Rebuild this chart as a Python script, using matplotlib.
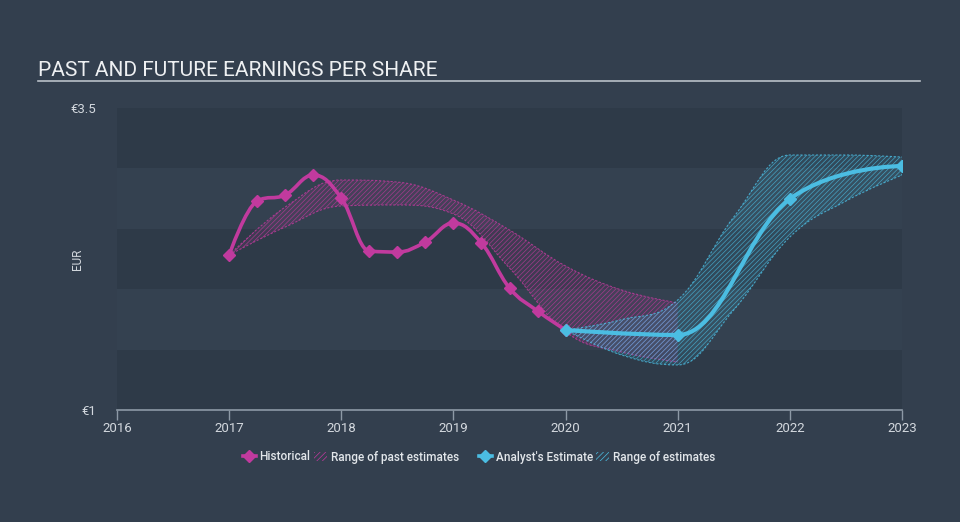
import matplotlib.pyplot as plt
from matplotlib.path import Path
from matplotlib.patches import PathPatch, Patch
from matplotlib.lines import Line2D
import matplotlib as mpl

mpl.style.use('default')
plt.rcParams['font.family'] = ['Roboto', 'DejaVu Sans']
plt.rcParams['hatch.linewidth'] = 0.5

# Historical EPS (quarterly points)
hist_x = [2017.0, 2017.25, 2017.5, 2017.75, 2018.0, 2018.25, 2018.5, 2018.75,
          2019.0, 2019.25, 2019.5, 2019.75, 2020.0]
hist_y = [2.283, 2.730, 2.780, 2.945, 2.755, 2.316, 2.308, 2.391,
          2.548, 2.382, 2.010, 1.820, 1.662]

# Analyst estimates
est_x = [2020.0, 2021.0, 2022.0, 2023.0]
est_y = [1.662, 1.621, 2.747, 3.020]

# Range of past estimates
past_rx = [2017.0, 2017.5, 2018.0, 2018.5, 2019.0, 2019.5, 2020.0, 2020.5, 2021.0]
past_hi = [2.283, 2.680, 2.904, 2.887, 2.738, 2.490, 2.192, 1.993, 1.886]
past_lo = [2.283, 2.515, 2.689, 2.697, 2.623, 2.175, 1.646, 1.480, 1.397]

# Range of future estimates
fut_rx = [2020.0, 2020.5, 2021.0, 2021.5, 2022.0, 2022.5, 2023.0]
fut_hi = [1.662, 1.748, 1.911, 2.598, 3.111, 3.111, 3.094]
fut_lo = [1.662, 1.455, 1.373, 1.828, 2.432, 2.730, 2.945]

years = [2016, 2017, 2018, 2019, 2020, 2021, 2022, 2023]

BG = '#333f4e'
PINK = '#c13a9e'
BLUE = '#4bbde2'


def spline_segments(xs, ys, smoothing=1.5):
    # Highcharts style spline -> list of bezier control points
    n = len(xs)
    lc = [(xs[i], ys[i]) for i in range(n)]
    rc = [(xs[i], ys[i]) for i in range(n)]
    for i in range(1, n - 1):
        x, y = xs[i], ys[i]
        px, py = xs[i - 1], ys[i - 1]
        nx, ny = xs[i + 1], ys[i + 1]
        lx = (smoothing * x + px) / (smoothing + 1)
        ly = (smoothing * y + py) / (smoothing + 1)
        rx = (smoothing * x + nx) / (smoothing + 1)
        ry = (smoothing * y + ny) / (smoothing + 1)
        if rx != lx:
            corr = (ry - ly) * (rx - x) / (rx - lx) + y - ry
            ly += corr
            ry += corr
        if ly > py and ly > y:
            ly = max(py, y)
            ry = 2 * y - ly
        elif ly < py and ly < y:
            ly = min(py, y)
            ry = 2 * y - ly
        if ry > ny and ry > y:
            ry = max(ny, y)
            ly = 2 * y - ry
        elif ry < ny and ry < y:
            ry = min(ny, y)
            ly = 2 * y - ry
        lc[i] = (lx, ly)
        rc[i] = (rx, ry)
    verts = [(xs[0], ys[0])]
    for i in range(1, n):
        verts += [rc[i - 1], lc[i], (xs[i], ys[i])]
    return verts


def curve_path(xs, ys):
    v = spline_segments(xs, ys)
    codes = [Path.MOVETO] + [Path.CURVE4] * (len(v) - 1)
    return Path(v, codes)


def band_path(xs, lo, hi):
    up = spline_segments(xs, hi)
    dn = spline_segments(xs[::-1], lo[::-1])
    v = up + [dn[0]] + dn[1:] + [up[0]]
    codes = ([Path.MOVETO] + [Path.CURVE4] * (len(up) - 1) + [Path.LINETO]
             + [Path.CURVE4] * (len(dn) - 1) + [Path.CLOSEPOLY])
    return Path(v, codes)


fig = plt.figure(figsize=(9.6, 5.22), dpi=100, facecolor=BG)
ax = fig.add_axes([117 / 960, 1 - 410 / 522, 785 / 960, 302 / 522])
ax.set_facecolor(BG)
ax.set_xlim(2016, 2023)
ax.set_ylim(1, 3.5)

# alternating bands
band_cols = ['#2e3a48', '#344150', '#2e3a48', '#344150', '#2e3a48']
for k, c in enumerate(band_cols):
    ax.axhspan(1 + 0.5 * k, 1.5 + 0.5 * k, color=c, lw=0, zorder=0)

# ranges
for xs, lo, hi, col in [(past_rx, past_lo, past_hi, PINK), (fut_rx, fut_lo, fut_hi, BLUE)]:
    bp = band_path(xs, lo, hi)
    ax.add_patch(PathPatch(bp, facecolor=col, edgecolor='none', alpha=0.12, zorder=2))
    ax.add_patch(PathPatch(bp, facecolor='none', edgecolor=col,
                           hatch='///////', lw=0, alpha=0.75, zorder=2))
    for b in (lo, hi):
        ax.add_patch(PathPatch(curve_path(xs, b), facecolor='none', edgecolor=col,
                               lw=0.8, ls=(0, (2, 1.5)), alpha=0.8, zorder=2))

# lines
ax.add_patch(PathPatch(curve_path(hist_x, hist_y), facecolor='none', edgecolor=PINK,
                       lw=2.6, zorder=4, capstyle='round'))
ax.plot(hist_x, hist_y, ls='none', marker='D', ms=6.5, color=PINK, zorder=5)
ax.add_patch(PathPatch(curve_path(est_x, est_y), facecolor='none', edgecolor=BLUE,
                       lw=3, zorder=6, capstyle='round'))
ax.plot(est_x, est_y, ls='none', marker='D', ms=6.5, color=BLUE, zorder=7)

# axes styling
for s in ['top', 'right', 'left']:
    ax.spines[s].set_visible(False)
ax.spines['bottom'].set_color('#8d99a6')
ax.spines['bottom'].set_linewidth(1.2)
ax.set_xticks(years)
ax.set_xticklabels([str(y) for y in years])
ax.tick_params(axis='x', colors='#8d99a6', labelcolor='#d3d8de', labelsize=9.5,
               length=7, width=1, pad=2)
ax.set_yticks([1, 3.5])
ax.set_yticklabels(['€1', '€3.5'])
ax.tick_params(axis='y', length=0, pad=15, labelcolor='#d3d8de', labelsize=9.5)
ax.set_ylabel('EUR', color='#d3d8de', fontsize=8.5)
ax.yaxis.set_label_coords(-(117 - 84) / 785, 0.5)

# title
fig.text(38 / 960, 1 - 70 / 522, 'PAST AND FUTURE EARNINGS PER SHARE', color='#eef0f2',
         fontsize=15, va='center', ha='left')
fig.add_artist(Line2D([38 / 960, 920 / 960], [1 - 81 / 522, 1 - 81 / 522],
                      color='#b9c0c8', lw=1.2))

# legend, two groups
groups = [
    (PINK, ['Historical', 'Range of past estimates'], 243),
    (BLUE, ["Analyst's Estimate", 'Range of estimates'], 479),
]
for col, labs, x0 in groups:
    hs = [Line2D([0], [0], color=col, lw=2.6, marker='D', ms=6),
          Patch(facecolor='none', edgecolor=col, hatch='//////', lw=0)]
    leg = fig.legend(hs, labs, loc='center left', bbox_to_anchor=(x0 / 960, 1 - 457 / 522),
                     ncol=2, frameon=False, fontsize=8.5, handlelength=1.1,
                     handletextpad=0.3, columnspacing=0.3, handleheight=0.9,
                     borderaxespad=0, borderpad=0)
    for t in leg.get_texts():
        t.set_color('#e2e6ea')
        t.set_fontweight('medium')

fig.savefig('out.png', dpi=100, facecolor=BG)
